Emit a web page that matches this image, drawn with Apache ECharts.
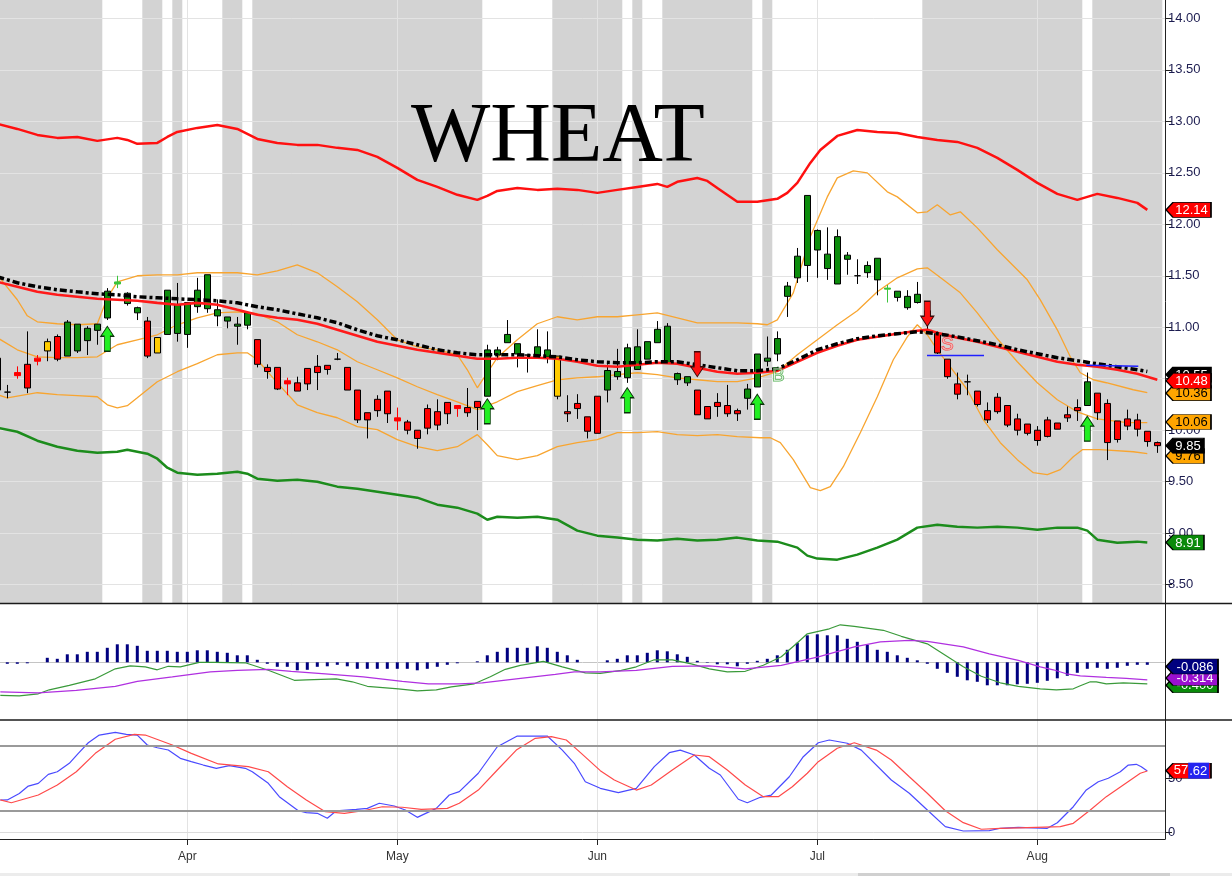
<!DOCTYPE html>
<html><head><meta charset="utf-8">
<script src="https://cdn.jsdelivr.net/npm/echarts@6/dist/echarts.min.js"></script>
<style>html,body{margin:0;padding:0;background:#fff}#c{width:1232px;height:876px}</style>
</head><body><div id="c"></div>
<script>
// ---------- DATA ----------
const monthTickIdx = [19, 40, 60, 82, 104];
const monthLabels = ['Apr', 'May', 'Jun', 'Jul', 'Aug'];
const priceTicks = [8.5, 9, 9.5, 10, 10.5, 11, 11.5, 12, 12.5, 13, 13.5, 14];
const grayBandRanges = [[0,10],[15,16],[18,18],[23,24],[26,48],[56,62],[64,64],[67,75],[77,77],[93,108],[110,116]];

const candleOpen = [10.70,10.37,10.56,10.64,10.70,10.86,10.91,10.72,10.77,10.87,
10.97,11.09,11.42,11.23,11.14,11.06,10.90,10.93,10.94,10.93,
11.20,11.18,11.11,11.06,11.01,11.02,10.88,10.61,10.61,10.48,
10.46,10.60,10.62,10.63,10.69,10.61,10.39,10.17,10.30,10.38,
10.12,10.08,10.00,10.21,10.18,10.27,10.24,10.22,10.28,10.33,
10.73,10.85,10.74,10.73,10.72,10.71,10.72,10.18,10.26,10.13,
10.33,10.39,10.52,10.51,10.59,10.69,10.85,10.65,10.49,10.46,
10.39,10.23,10.27,10.24,10.19,10.31,10.42,10.67,10.74,11.30,
11.48,11.60,11.75,11.57,11.42,11.66,11.50,11.53,11.46,11.37,
11.29,11.19,11.24,11.08,10.94,10.69,10.45,10.47,10.38,10.19,
10.32,10.24,10.11,10.06,10.00,10.10,10.07,10.15,10.22,10.24,
10.36,10.26,10.09,10.11,10.10,9.99,9.88];
const candleClose = [10.39,10.37,10.53,10.41,10.67,10.77,10.69,11.05,11.03,10.99,
11.03,11.35,11.44,11.33,11.19,10.72,10.75,11.36,11.22,11.24,
11.36,11.51,11.17,11.10,11.03,11.14,10.64,10.57,10.40,10.45,
10.38,10.45,10.56,10.59,10.69,10.39,10.10,10.10,10.19,10.16,
10.09,10.00,9.92,10.02,10.05,10.16,10.21,10.17,10.22,10.78,
10.78,10.93,10.84,10.73,10.81,10.78,10.33,10.16,10.21,9.99,
9.97,10.58,10.57,10.80,10.81,10.86,10.98,11.01,10.55,10.52,
10.15,10.11,10.23,10.16,10.16,10.40,10.74,10.70,10.89,11.40,
11.69,12.28,11.94,11.71,11.88,11.70,11.50,11.60,11.67,11.38,
11.35,11.30,11.32,11.16,10.75,10.52,10.35,10.47,10.25,10.10,
10.18,10.05,10.00,9.97,9.90,9.94,10.01,10.12,10.19,10.47,
10.17,9.88,9.91,10.04,10.01,9.89,9.85];
const candleLow = [10.36,10.31,10.50,10.36,10.63,10.67,10.67,10.72,10.75,10.73,
10.83,11.07,11.38,11.21,11.07,10.70,10.75,10.93,10.86,10.80,
11.14,11.14,11.01,10.99,10.83,10.98,10.61,10.50,10.39,10.34,
10.38,10.39,10.39,10.54,10.68,10.39,10.07,9.92,10.13,10.07,
10.00,9.96,9.82,9.96,10.00,10.06,10.13,10.13,10.00,10.33,
10.68,10.85,10.61,10.56,10.72,10.65,10.30,10.08,10.11,9.92,
9.97,10.27,10.49,10.46,10.59,10.69,10.85,10.65,10.44,10.43,
10.15,10.11,10.13,10.13,10.09,10.20,10.42,10.62,10.67,11.10,
11.43,11.44,11.48,11.46,11.42,11.51,11.42,11.48,11.31,11.24,
11.25,11.17,11.23,10.98,10.74,10.50,10.30,10.34,10.23,10.07,
10.16,10.03,9.95,9.95,9.85,9.93,10.01,10.08,10.09,10.24,
10.10,9.71,9.88,10.00,9.94,9.84,9.78];
const candleHigh = [10.74,10.44,10.62,10.96,10.73,10.89,10.93,11.07,11.03,11.01,
11.03,11.38,11.50,11.34,11.20,11.10,10.90,11.36,11.43,11.24,
11.48,11.51,11.27,11.10,11.10,11.14,10.88,10.64,10.61,10.51,
10.52,10.60,10.73,10.63,10.75,10.61,10.39,10.17,10.34,10.38,
10.22,10.10,10.00,10.25,10.30,10.27,10.24,10.41,10.28,10.83,
10.81,11.07,10.84,10.73,10.98,10.96,10.72,10.34,10.35,10.13,
10.33,10.64,10.79,10.84,10.98,10.86,11.06,11.04,10.56,10.52,
10.39,10.23,10.36,10.44,10.21,10.45,10.74,10.91,10.96,11.44,
11.77,12.28,11.95,11.97,11.95,11.73,11.66,11.64,11.67,11.41,
11.35,11.36,11.44,11.16,10.96,10.69,10.56,10.54,10.38,10.27,
10.36,10.24,10.16,10.06,10.04,10.13,10.07,10.23,10.30,10.56,
10.36,10.30,10.09,10.20,10.16,9.99,9.89];
// k = black doji, r = red doji, y = yellow bar, g = light green doji
const candleStyleCodes = {1:'k',2:'r',4:'r',5:'y',12:'g',16:'y',29:'r',34:'k',40:'r',46:'r',53:'k',56:'y',86:'k',89:'g',97:'k'};

const upperBand = [[0,12.975],[2,12.926],[4,12.868],[6,12.839],[8,12.848],[10,12.810],[12,12.839],[13,12.819],[14,12.781],[16,12.790],[17,12.848],[18,12.897],[20,12.936],[22,12.965],[24,12.926],[26,12.829],[28,12.790],[30,12.771],[32,12.771],[34,12.742],[36,12.722],[38,12.654],[40,12.548],[42,12.431],[44,12.363],[46,12.286],[48,12.237],[49,12.276],[50,12.324],[52,12.353],[54,12.334],[56,12.344],[58,12.334],[60,12.305],[62,12.334],[64,12.363],[66,12.392],[67,12.363],[68,12.412],[70,12.450],[71,12.421],[72,12.353],[74,12.218],[76,12.218],[78,12.247],[79,12.305],[80,12.402],[81.3,12.596],[82.3,12.722],[84,12.858],[86,12.916],[88,12.897],[90,12.887],[92,12.848],[94,12.819],[96,12.800],[98,12.742],[100,12.645],[102,12.528],[104,12.402],[106,12.295],[108,12.237],[110,12.295],[112,12.256],[114,12.208],[115,12.14]];
const lowerBand = [[0,10.024],[2,9.985],[4,9.898],[6,9.840],[8,9.801],[10,9.782],[12,9.791],[13,9.811],[15,9.772],[16,9.723],[17,9.636],[18,9.588],[20,9.568],[22,9.578],[24,9.597],[25,9.578],[26,9.529],[28,9.510],[30,9.520],[32,9.500],[34,9.452],[36,9.432],[38,9.403],[40,9.374],[42,9.345],[44,9.277],[46,9.248],[48,9.190],[49,9.131],[50,9.160],[52,9.151],[54,9.160],[56,9.131],[58,9.025],[60,8.976],[62,8.957],[64,8.937],[66,8.928],[68,8.947],[70,8.928],[72,8.937],[74,8.957],[76,8.928],[78,8.918],[80,8.860],[81,8.782],[82,8.753],[84,8.743],[86,8.792],[88,8.860],[90,8.937],[92,9.054],[94,9.083],[96,9.063],[98,9.054],[100,9.063],[102,9.054],[104,9.034],[106,9.054],[108,9.054],[109,9.025],[110,8.937],[112,8.908],[114,8.918],[115,8.91]];
const maLine = [[0,11.441],[2,11.393],[4,11.344],[6,11.315],[8,11.296],[10,11.276],[12,11.267],[14,11.257],[16,11.237],[18,11.218],[20,11.237],[22,11.218],[24,11.169],[26,11.121],[28,11.092],[30,11.072],[32,11.034],[34,10.975],[36,10.917],[38,10.859],[40,10.820],[42,10.781],[44,10.752],[46,10.723],[48,10.694],[50,10.694],[52,10.704],[54,10.704],[56,10.694],[58,10.665],[60,10.626],[62,10.616],[64,10.636],[66,10.655],[68,10.645],[70,10.607],[72,10.568],[74,10.548],[76,10.558],[78,10.577],[80,10.665],[82,10.752],[84,10.820],[86,10.878],[88,10.907],[90,10.937],[92,10.966],[93,10.975],[94,10.946],[96,10.898],[98,10.859],[100,10.810],[102,10.762],[104,10.713],[106,10.665],[108,10.636],[110,10.616],[112,10.587],[114,10.548],[116,10.49]];
const maGreenRanges = [[11,13],[17,21],[49,55],[63,67],[76,93]];
const maDashLine = [[0,11.490],[2,11.432],[4,11.393],[6,11.364],[8,11.344],[10,11.325],[12,11.315],[14,11.296],[16,11.286],[18,11.276],[20,11.267],[22,11.257],[24,11.237],[26,11.199],[28,11.169],[30,11.130],[32,11.092],[34,11.043],[36,10.975],[38,10.917],[40,10.878],[42,10.830],[44,10.781],[46,10.752],[48,10.733],[50,10.733],[52,10.733],[54,10.723],[56,10.713],[58,10.684],[60,10.665],[62,10.655],[64,10.655],[66,10.665],[68,10.665],[70,10.636],[72,10.607],[74,10.577],[76,10.577],[78,10.597],[80,10.684],[82,10.781],[84,10.840],[86,10.888],[88,10.917],[90,10.937],[92,10.956],[94,10.937],[96,10.907],[98,10.869],[100,10.830],[102,10.781],[104,10.743],[106,10.704],[108,10.675],[110,10.645],[112,10.616],[114,10.587],[115,10.57]];
const bbUpper = [[0,11.509],[2,11.267],[3,11.111],[4,11.053],[6,11.034],[8,11.024],[10,11.034],[11,11.286],[12,11.441],[14,11.500],[16,11.509],[18,11.509],[20,11.529],[22,11.529],[24,11.529],[26,11.509],[28,11.548],[30,11.606],[32,11.529],[34,11.393],[36,11.247],[38,11.072],[40,10.878],[42,10.810],[44,10.781],[46,10.733],[47,10.587],[48,10.412],[49,10.558],[50,10.704],[52,10.878],[54,11.034],[56,11.102],[58,11.072],[60,11.102],[62,11.102],[64,11.121],[66,11.140],[68,11.092],[70,11.043],[72,11.043],[74,11.043],[76,11.034],[77,11.024],[78,11.072],[79.6,11.334],[81.3,11.878],[83,12.266],[84,12.451],[85.6,12.519],[87,12.499],[89,12.315],[90,12.266],[92,12.111],[93,12.121],[94,12.189],[95.3,12.091],[96.3,12.121],[98,11.965],[100,11.752],[102,11.558],[103,11.461],[104.3,11.266],[106,10.975],[107.3,10.713],[108.3,10.558],[109.6,10.490],[110.9,10.461],[113.6,10.393],[115,10.364]];
const bbMid = [[0,10.898],[2,10.781],[4,10.713],[6,10.704],[8,10.704],[10,10.713],[12,10.830],[14,10.878],[16,10.927],[18,11.024],[20,11.092],[22,11.140],[24,11.150],[26,11.131],[28,11.053],[30,10.927],[32,10.859],[34,10.781],[36,10.665],[38,10.587],[40,10.509],[42,10.422],[44,10.345],[46,10.276],[48,10.199],[49,10.238],[50,10.276],[52,10.374],[54,10.432],[56,10.490],[58,10.509],[60,10.519],[62,10.539],[64,10.558],[66,10.539],[68,10.509],[70,10.490],[72,10.471],[74,10.471],[76,10.509],[78,10.568],[80,10.733],[82,10.878],[84,11.024],[86,11.160],[88,11.344],[90,11.480],[92,11.567],[93,11.577],[94.6,11.461],[96.3,11.334],[98,11.140],[100,10.888],[102,10.665],[104,10.461],[106,10.296],[108,10.179],[110,10.111],[113,10.073],[115,10.073]];
const bbLower = [[0,10.345],[1,10.315],[4,10.364],[6,10.345],[8,10.335],[10,10.325],[11,10.247],[12,10.218],[13,10.238],[14,10.315],[15,10.393],[16,10.471],[18,10.568],[20,10.646],[22,10.733],[24,10.752],[25,10.752],[26,10.684],[28,10.46],[30,10.247],[32,10.170],[34,10.121],[36,10.034],[38,10.005],[40,9.908],[42,9.840],[44,9.801],[46,9.840],[48,9.957],[49,9.859],[50,9.753],[52,9.714],[54,9.753],[56,9.840],[58,9.879],[60,9.908],[62,9.976],[64,9.976],[66,9.986],[68,9.957],[70,9.947],[72,9.957],[74,9.937],[76.3,9.927],[77.3,9.927],[78.3,9.879],[79.6,9.714],[81.3,9.442],[82.3,9.413],[83.3,9.452],[84.6,9.646],[86.3,9.976],[88,10.325],[89.6,10.684],[91,10.907],[92,11.024],[93,10.927],[94,10.781],[95.3,10.616],[97,10.393],[98.6,10.102],[100.3,9.879],[102,9.714],[103.6,9.588],[105,9.568],[106.3,9.617],[107.6,9.743],[108.5,9.811],[110.3,9.811],[113.6,9.791],[115,9.772]];

const buyArrows = [[11,10.888],[49,10.184],[63,10.291],[76,10.228],[109,10.015]];
const sellArrows = [[70,10.641],[93,11.131]];
const signalLetters = [{name:'B', x:78.1, y:10.524}, {name:'S', x:95.0, y:10.825}];
const stopLines = [[[92.97,10.726],[98.67,10.726]], [[108.9,10.632],[114.1,10.622]]];

const macdHist = [[1,-0.03],[2,-0.03],[3,-0.02],[5,0.09],[6,0.07],[7,0.16],[8,0.16],[9,0.21],[10,0.21],[11,0.29],[12,0.36],[13,0.36],[14,0.33],[15,0.23],[16,0.23],[17,0.23],[18,0.21],[19,0.21],[20,0.24],[21,0.24],[22,0.21],[23,0.19],[24,0.14],[25,0.14],[26,0.05],[27,-0.03],[28,-0.09],[29,-0.09],[30,-0.16],[31,-0.15],[32,-0.09],[33,-0.08],[34,-0.05],[35,-0.08],[36,-0.13],[37,-0.13],[38,-0.13],[39,-0.13],[40,-0.13],[41,-0.13],[42,-0.16],[43,-0.13],[44,-0.09],[45,-0.05],[46,-0.02],[48,0.02],[49,0.14],[50,0.21],[51,0.29],[52,0.29],[53,0.29],[54,0.32],[55,0.29],[56,0.21],[57,0.14],[58,0.05],[61,0.04],[62,0.07],[63,0.14],[64,0.14],[65,0.19],[66,0.24],[67,0.22],[68,0.16],[69,0.11],[70,0.03],[71,-0.01],[72,-0.04],[73,-0.04],[74,-0.08],[75,-0.03],[76,0.03],[77,0.07],[78,0.14],[79,0.25],[80,0.39],[81,0.54],[82,0.56],[83,0.54],[84,0.54],[85,0.47],[86,0.41],[87,0.35],[88,0.25],[89,0.21],[90,0.14],[91,0.09],[92,0.04],[93,-0.03],[94,-0.13],[95,-0.21],[96,-0.29],[97,-0.36],[98,-0.39],[99,-0.46],[100,-0.46],[101,-0.46],[102,-0.44],[103,-0.43],[104,-0.41],[105,-0.37],[106,-0.32],[107,-0.27],[108,-0.21],[109,-0.13],[110,-0.11],[111,-0.13],[112,-0.11],[113,-0.07],[114,-0.05],[115,-0.05]];
const macdLine = [[0.3,-0.66],[2.2,-0.67],[4.1,-0.63],[5.2,-0.55],[7.2,-0.46],[9.8,-0.33],[11.8,-0.13],[13.3,-0.07],[14.8,-0.09],[16,-0.15],[17.1,-0.08],[18.3,-0.09],[20.2,0],[21.7,0],[24.8,-0.01],[27.1,-0.16],[29.7,-0.36],[30.9,-0.35],[33.9,-0.33],[35.5,-0.39],[37,-0.48],[40.1,-0.53],[42,-0.57],[43.9,-0.55],[45.4,-0.49],[47.7,-0.43],[49.3,-0.29],[50.8,-0.14],[52.3,-0.06],[54.6,0.02],[56.5,-0.09],[58.8,-0.21],[60.3,-0.22],[62.4,-0.16],[63.9,-0.09],[65.7,0.05],[67.5,0.05],[69.4,-0.03],[71.2,-0.13],[73,-0.19],[74.8,-0.18],[76.6,-0.06],[78.4,0.11],[79.9,0.37],[81,0.57],[83.2,0.67],[84.3,0.75],[85.7,0.72],[88.6,0.64],[90.4,0.52],[93,0.37],[94.8,0.14],[96.6,-0.09],[98.4,-0.28],[100.3,-0.41],[102.1,-0.48],[104.3,-0.53],[105.9,-0.55],[107.6,-0.53],[108.3,-0.47],[109.3,-0.39],[109.9,-0.39],[110.9,-0.43],[112.6,-0.41],[115,-0.43]];
const macdSignal = [[0.3,-0.59],[4.1,-0.61],[7.9,-0.56],[11.8,-0.48],[14,-0.38],[17.5,-0.29],[21.3,-0.19],[24,-0.16],[27.1,-0.14],[29.4,-0.18],[32.8,-0.23],[36.6,-0.29],[40.5,-0.38],[43.1,-0.43],[46.2,-0.43],[48.5,-0.41],[51.9,-0.33],[55.8,-0.24],[57.7,-0.19],[60.3,-0.19],[63.9,-0.16],[67.5,-0.08],[71.2,-0.07],[74.8,-0.13],[78.4,-0.06],[82.1,0.11],[85.7,0.31],[88.3,0.41],[91.2,0.44],[93,0.42],[96.6,0.31],[99.2,0.17],[102.1,0.04],[104.3,-0.09],[105.6,-0.15],[106.9,-0.23],[108.3,-0.27],[110.9,-0.30],[112.9,-0.32],[115,-0.35]];

const stochK = [[0.3,29.9],[1,30],[2.2,36],[3.1,42.8],[4.1,45.3],[5.1,53.6],[6,56],[7.2,63.8],[8.1,73],[9.1,82.8],[10.2,89.9],[11.8,92.4],[12.9,90.5],[14,89.9],[15,80.7],[16,78.2],[17.1,76.1],[18.3,68.4],[19.4,65.3],[20.6,62.2],[21.9,59.2],[23.2,61.6],[24.8,59.2],[25.5,56],[27.1,45.3],[28.2,33],[30.1,20],[30.9,18.2],[32,17.6],[33,13],[33.9,20],[35.9,21.3],[37,22.2],[38.2,26.9],[39.7,24.4],[40.8,20.7],[42,13.9],[43.9,22.2],[45.2,34.5],[46.2,37.6],[48.1,54.6],[50,79.1],[52,89],[53.8,89],[55,89],[56.5,76],[57.7,63.8],[58.8,46.8],[60.3,40.7],[62.1,36.7],[63.9,40.7],[65.7,60.7],[67.2,73.6],[68.3,76],[69.7,71.5],[71.2,59.2],[72.3,53],[74.1,30.6],[75,27.4],[76.3,32.4],[77.4,34.5],[79.2,51.4],[80.6,69.9],[82.1,82.8],[83.2,85.3],[85,82.3],[86.4,76],[89.4,48.4],[91.2,36.1],[93,20.7],[94.8,5.3],[96.6,1.3],[99.2,1.6],[100.3,3.8],[102.1,4.7],[105,3.8],[106,8.9],[107.6,23.7],[108.9,39.2],[110.1,46.8],[111.1,50],[112.3,56],[113.1,62.2],[113.9,62.9],[114.4,60.7],[115,56.7]];
const stochD = [[0.3,30],[1.4,27.4],[4.1,34.5],[6,43.8],[7.9,56],[9.8,73],[11.8,86],[13.7,90.5],[14.8,89.9],[17.5,80.7],[19.4,73],[22.1,63.2],[25.1,60.7],[27.1,56],[29,42.2],[30.9,29.9],[32.8,19.1],[34.7,17.6],[36.6,20],[38.5,23.7],[40.5,23.2],[42.4,21.3],[45,22.2],[46.2,26.9],[48.1,39.1],[50,57.6],[51.9,76],[53.8,86.9],[55.4,88.4],[56.9,85.3],[58.4,73],[60.3,57],[61.7,48.4],[63.9,39.1],[65.4,43.8],[67.5,57.6],[69.7,71.5],[71.2,69.9],[73,57.6],[74.8,43.8],[76.6,33],[78.1,33],[79.5,42.2],[81,54.6],[82.1,65.3],[84,77.7],[85.7,82.8],[87.9,76],[89.4,66.9],[91.2,51.4],[93,36.1],[94.8,20],[96.6,9],[98.4,2.9],[100.3,3.8],[103.9,4.7],[106.3,5.3],[107.6,8.4],[109.3,20.7],[110.9,33],[112.6,43.8],[114.3,54.6],[115,56.7]];
const stochLevels = [20, 80];

// end-of-series value tags: text shown and the value where it sits
const tagUpper = {text:'12.14', at:12.14}, tagDash = {text:'10.55', at:10.54}, tagMa = {text:'10.48', at:10.48};
const tagBbU = {text:'10.36', at:10.36}, tagBbM = {text:'10.06', at:10.08}, tagBbL = {text:'9.76', at:9.75};
const tagLast = {text:'9.85', at:9.85}, tagLower = {text:'8.91', at:8.91};
const tagHist = {text:'-0.086', at:-0.086}, tagSignal = {text:'-0.314', at:-0.314}, tagMacd = {text:'-0.400', at:-0.46};
const tagStoch = {whole:'57', frac:'.62', at:57};

// ---------- CHART ----------
const X_MIN = 0.27, X_MAX = 116.77;
const FONT = 'Liberation Sans, Arial, sans-serif';
const chart = echarts.init(document.getElementById('c'));

function xAxisCfg(gi, withLabels) {
  return {
    type: 'value', gridIndex: gi, min: X_MIN, max: X_MAX, z: 1.5,
    axisLine: {show: withLabels, onZero: false, lineStyle: {color: '#222', width: 1}},
    axisTick: {show: withLabels, customValues: monthTickIdx, length: 6, lineStyle: {color: '#222'}},
    axisLabel: {show: withLabels, customValues: monthTickIdx, margin: 12, color: '#333', fontSize: 12, fontFamily: FONT,
      formatter: v => monthLabels[monthTickIdx.indexOf(Math.round(v))] || ''},
    splitLine: {show: true, lineStyle: {color: '#e3e3e3', width: 1}}
  };
}
function tagPoint(t, bg, fg, extraLabel) {
  const txt = t.text || (t.whole + t.frac);
  const w = 10 + txt.length * 7;
  const label = Object.assign({show: true, position: 'inside', offset: [3, 0.5], formatter: t.text,
    color: fg, fontSize: 13, fontFamily: FONT}, extraLabel || {});
  return {
    coord: [X_MAX - 0.001, t.at],
    symbol: 'path://M0,7.5L7,0L' + w + ',0L' + w + ',15L7,15Z',
    symbolSize: [w, 15], symbolOffset: [w / 2 + 1, 0],
    itemStyle: {color: bg, borderColor: '#000', borderWidth: 1},
    label
  };
}
function mp(z, points) { return {silent: true, animation: false, z, data: points}; }
function lineS(data, color, width, xi, extra) {
  return Object.assign({type: 'line', xAxisIndex: xi, yAxisIndex: xi, data, showSymbol: false, symbol: 'none',
    lineStyle: {color, width}, silent: true, animation: false}, extra || {});
}

const candleStyles = {
  y: {color: '#ffcc00', color0: '#ffcc00', borderColor: '#000', borderColor0: '#000'},
  k: {color: '#000', color0: '#000', borderColor: '#000', borderColor0: '#000'},
  r: {color: '#ff0000', color0: '#ff0000', borderColor: '#ff0000', borderColor0: '#ff0000'},
  g: {color: '#3cc43c', color0: '#3cc43c', borderColor: '#3cc43c', borderColor0: '#3cc43c'}
};
const candleData = candleOpen.map((o, i) => {
  const item = {value: [i, o, candleClose[i], candleLow[i], candleHigh[i]]};
  const s = candleStyleCodes[i];
  if (s) item.itemStyle = candleStyles[s];
  return item;
});

const stopData = [];
stopLines.forEach((seg, k) => { if (k) stopData.push([seg[0][0] - 1, '-']); stopData.push(seg[0], seg[1]); });

const upArrow = 'path://M6.5,0L13,10L9.5,10L9.5,25L3.5,25L3.5,10L0,10Z';
const downArrow = 'path://M3.5,0L9.5,0L9.5,15L13,15L6.5,25L0,15L3.5,15Z';

const option = {
  animation: false,
  backgroundColor: '#fff',
  title: {text: 'WHEAT', left: 406, top: 92, z: 6,
    textStyle: {fontFamily: 'Liberation Serif, Times New Roman, serif', fontSize: 84, fontWeight: 'normal', color: '#000'}},
  grid: [
    {left: 0, top: 0, width: 1165, height: 603},
    {left: 0, top: 603, width: 1165, height: 117},
    {left: 0, top: 720, width: 1165, height: 119}
  ],
  xAxis: [xAxisCfg(0, false), xAxisCfg(1, false), xAxisCfg(2, true)],
  yAxis: [
    {type: 'value', gridIndex: 0, position: 'right', min: 8.322, max: 14.178, z: 1.5,
      axisLine: {show: true, onZero: false, lineStyle: {color: '#222'}},
      axisTick: {show: true, customValues: priceTicks, length: 7, lineStyle: {color: '#222'}},
      axisLabel: {customValues: priceTicks, formatter: v => v.toFixed(2), color: '#1c1c50', fontSize: 13, margin: 3, fontFamily: FONT},
      splitLine: {show: true, lineStyle: {color: '#e3e3e3'}}},
    {type: 'value', gridIndex: 1, position: 'right', min: -1.154, max: 1.186, z: 1.5,
      axisLine: {show: true, onZero: false, lineStyle: {color: '#222'}},
      axisTick: {show: false, customValues: [0]}, axisLabel: {show: false},
      splitLine: {show: true, lineStyle: {color: '#c4c4c4'}}},
    {type: 'value', gridIndex: 2, position: 'right', min: -6.1, max: 103.8, z: 1.5,
      axisLine: {show: true, onZero: false, lineStyle: {color: '#222'}},
      axisTick: {show: true, customValues: [0, 50], length: 7, lineStyle: {color: '#222'}},
      axisLabel: {customValues: [0, 50], color: '#1c1c50', fontSize: 13, margin: 3, fontFamily: FONT},
      splitLine: {show: false}}
  ],
  visualMap: [{
    type: 'piecewise', show: false, dimension: 0, seriesIndex: 6,
    pieces: maGreenRanges.map(r => ({gte: r[0] - 0.5, lte: r[1] + 0.5, color: '#4fd24f'})),
    outOfRange: {color: '#ff1a1a'}
  }],
  series: [
    // 0 Bollinger upper (+ background bands)
    lineS(bbUpper, '#f8a530', 1.3, 0, {
      markArea: {silent: true, z: 1, itemStyle: {color: '#d3d3d3'},
        data: grayBandRanges.map(r => [{xAxis: r[0] - 0.5}, {xAxis: r[1] + 0.5}])},
      markPoint: mp(5, [tagPoint(tagBbU, '#ffa500', '#000')])}),
    // 1 Bollinger mid
    lineS(bbMid, '#f8a530', 1.3, 0, {markPoint: mp(5, [tagPoint(tagBbM, '#ffa500', '#000')])}),
    // 2 Bollinger lower
    lineS(bbLower, '#f8a530', 1.3, 0, {markPoint: mp(5, [tagPoint(tagBbL, '#ffa500', '#000')])}),
    // 3 upper envelope
    lineS(upperBand, '#ff1010', 2.5, 0, {markPoint: mp(5, [tagPoint(tagUpper, '#ff0000', '#fff')])}),
    // 4 lower envelope
    lineS(lowerBand, '#1c8c1c', 2.5, 0, {markPoint: mp(7, [tagPoint(tagLower, '#0a8a0a', '#fff')])}),
    // 5 candles
    {type: 'candlestick', xAxisIndex: 0, yAxisIndex: 0, z: 3, barWidth: 6, silent: true,
      encode: {x: 0, y: [1, 2, 3, 4]}, data: candleData,
      itemStyle: {color: '#0c8c0c', color0: '#ff0000', borderColor: '#000', borderColor0: '#000', borderWidth: 1},
      markPoint: mp(6, [tagPoint(tagLast, '#000', '#fff')])},
    // 6 moving average red/green
    lineS(maLine, '#ff1a1a', 2.6, 0, {z: 4, markPoint: mp(6, [tagPoint(tagMa, '#ff0000', '#fff')])}),
    // 7 dash-dot moving average
    lineS(maDashLine, '#000', 3.5, 0, {z: 4, lineStyle: {color: '#000', width: 3.5, type: [7, 3, 3, 3]},
      markPoint: mp(5, [tagPoint(tagDash, '#000', '#fff')])}),
    // 8 stop lines
    lineS(stopData, '#2020ff', 1.5, 0, {z: 5, connectNulls: false}),
    // 9 buy arrows
    {type: 'scatter', xAxisIndex: 0, yAxisIndex: 0, z: 6, silent: true, data: buyArrows,
      symbol: upArrow, symbolSize: [13, 25], itemStyle: {color: '#22f022', borderColor: '#0a300a', borderWidth: 1, opacity: 1}},
    // 10 sell arrows
    {type: 'scatter', xAxisIndex: 0, yAxisIndex: 0, z: 6, silent: true, data: sellArrows,
      symbol: downArrow, symbolSize: [13, 25], itemStyle: {color: '#ff1010', borderColor: '#3a0a0a', borderWidth: 1, opacity: 1}},
    // 11 B / S letters
    {type: 'scatter', xAxisIndex: 0, yAxisIndex: 0, z: 6, silent: true, symbolSize: 1,
      itemStyle: {color: 'rgba(0,0,0,0)'},
      data: signalLetters.map(s => ({name: s.name, value: [s.x, s.y],
        label: s.name === 'B'
          ? {color: 'rgba(255,255,255,0.55)', textBorderColor: '#229a22', textBorderWidth: 1}
          : {color: 'rgba(255,210,210,0.55)', textBorderColor: '#ff2020', textBorderWidth: 1}})),
      label: {show: true, position: 'inside', formatter: p => p.name, fontSize: 19, fontFamily: FONT}},
    // 12 MACD histogram
    {type: 'bar', xAxisIndex: 1, yAxisIndex: 1, data: macdHist, barWidth: 3, silent: true,
      itemStyle: {color: '#00007f'}, markPoint: mp(6, [tagPoint(tagHist, '#00007f', '#fff')])},
    // 13 MACD line
    lineS(macdLine, '#3a9a3a', 1.2, 1, {markPoint: mp(4, [tagPoint(tagMacd, '#0a8a0a', '#fff')])}),
    // 14 MACD signal
    lineS(macdSignal, '#b030e0', 1.2, 1, {markPoint: mp(5, [tagPoint(tagSignal, '#9a10d0', '#fff')])}),
    // 15 stochastic %K
    lineS(stochK, '#4a4aff', 1.2, 2),
    // 16 stochastic %D
    lineS(stochD, '#ff4a4a', 1.2, 2, {
      markLine: {silent: true, symbol: ['none', 'none'], animation: false, label: {show: false},
        lineStyle: {color: '#9a9a9a', width: 2, type: 'solid'},
        data: stochLevels.map(v => ({yAxis: v})).concat([{yAxis: 0, lineStyle: {color: '#dcdcdc', width: 1}}])},
      markPoint: mp(6, [tagPoint({text: '', whole: tagStoch.whole, frac: tagStoch.frac, at: tagStoch.at}, '#ff0000', '#fff',
        {formatter: '{a|' + tagStoch.whole + '}{b|' + tagStoch.frac + '}', offset: [3, 0],
         rich: {a: {color: '#fff', fontSize: 13, fontFamily: FONT},
                b: {color: '#fff', fontSize: 13, fontFamily: FONT, backgroundColor: '#2424f0', padding: [2, 2, 1, 1]}}})])})
  ],
  graphic: [
    {type: 'line', z: 100, shape: {x1: 0, y1: 603.5, x2: 1232, y2: 603.5}, style: {stroke: '#1a1a1a', lineWidth: 1.5}},
    {type: 'line', z: 100, shape: {x1: 0, y1: 720, x2: 1232, y2: 720}, style: {stroke: '#1a1a1a', lineWidth: 1.5}},
    {type: 'rect', z: 100, shape: {x: 0, y: 873, width: 1232, height: 3}, style: {fill: '#ececec'}},
    {type: 'rect', z: 100, shape: {x: 858, y: 873, width: 312, height: 3}, style: {fill: '#d0d0d0'}}
  ]
};
chart.setOption(option);
</script></body></html>
